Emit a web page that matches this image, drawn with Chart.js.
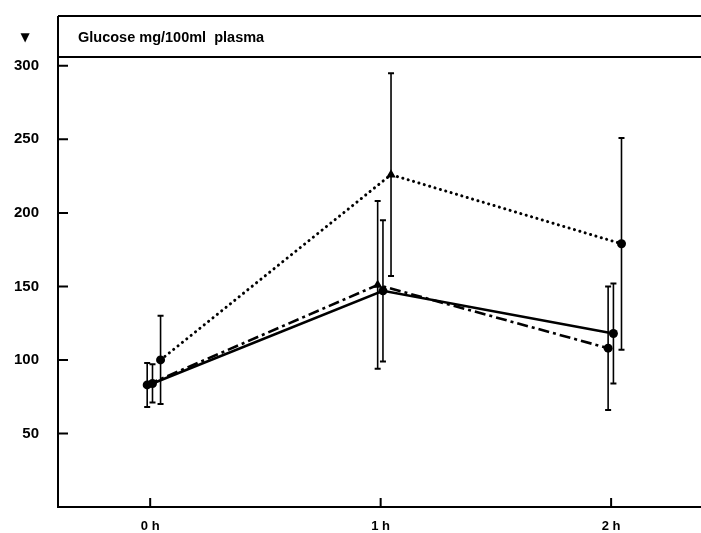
<!DOCTYPE html>
<html>
<head>
<meta charset="utf-8">
<script src="https://cdn.jsdelivr.net/npm/chart.js@4"></script>
<style>
  html, body { margin: 0; padding: 0; background: #fff; overflow: hidden; }
  #wrap { width: 701px; height: 533px; position: relative; }
  canvas { display: block; }
</style>
</head>
<body>
<div id="wrap"><canvas id="c" width="701" height="533"></canvas></div>
<script>
// ---- data ----
const times = [0, 1, 2];
const tickLabels = ['0 h', '1 h', '2 h'];
const yTicks = [50, 100, 150, 200, 250, 300];
const headerText = 'Glucose mg/100ml  plasma';

const dottedMean = [100, 226, 179];
const dottedSD   = [30, 69, 72];
const solidMean  = [84, 147, 118];
const solidSD    = [13, 48, 34];
const dashMean   = [83, 151, 108];
const dashSD     = [15, 57, 42];

// ---- build ----
function pts(mean, off) {
  return mean.map((v, i) => ({ x: times[i] + off, y: v }));
}

const datasets = [
  {
    label: 'dotted', data: pts(dottedMean, 0.045), sd: dottedSD,
    borderColor: '#000', backgroundColor: '#000', borderWidth: 3,
    borderDash: [0.1, 5.5], borderCapStyle: 'round',
    pointStyle: ['circle', 'triangle', 'circle'], pointRadius: [4.5, 5.5, 4.5],
    pointBackgroundColor: '#000', pointBorderWidth: 0
  },
  {
    label: 'solid', data: pts(solidMean, 0.01), sd: solidSD,
    borderColor: '#000', backgroundColor: '#000', borderWidth: 2.6,
    pointStyle: 'circle', pointRadius: 4.5,
    pointBackgroundColor: '#000', pointBorderWidth: 0
  },
  {
    label: 'dashdot', data: pts(dashMean, -0.013), sd: dashSD,
    borderColor: '#000', backgroundColor: '#000', borderWidth: 2.6,
    borderDash: [11, 4, 3, 4],
    pointStyle: ['circle', 'triangle', 'circle'], pointRadius: [4.5, 5.5, 4.5],
    pointBackgroundColor: '#000', pointBorderWidth: 0
  }
];

const framePlugin = {
  id: 'frame',
  beforeDatasetsDraw(chart) {
    const { ctx, scales: { x, y } } = chart;
    ctx.save();
    ctx.strokeStyle = '#000';
    chart.data.datasets.forEach(ds => {
      ds.data.forEach((p, i) => {
        const px = x.getPixelForValue(p.x);
        const top = y.getPixelForValue(p.y + ds.sd[i]);
        const bot = y.getPixelForValue(p.y - ds.sd[i]);
        ctx.lineWidth = 1.6;
        ctx.beginPath();
        ctx.moveTo(px, top); ctx.lineTo(px, bot);
        ctx.stroke();
        ctx.lineWidth = 2;
        ctx.beginPath();
        ctx.moveTo(px - 3, top); ctx.lineTo(px + 3, top);
        ctx.moveTo(px - 3, bot); ctx.lineTo(px + 3, bot);
        ctx.stroke();
      });
    });
    ctx.restore();
  },
  afterDraw(chart) {
    const { ctx, chartArea: a, scales: { x, y } } = chart;
    ctx.save();
    ctx.strokeStyle = '#000';
    ctx.lineWidth = 2;
    const hdrTop = 16;
    ctx.beginPath();
    ctx.moveTo(a.left, hdrTop); ctx.lineTo(a.right, hdrTop);
    ctx.moveTo(a.left, a.top); ctx.lineTo(a.right, a.top);
    ctx.moveTo(a.left, hdrTop); ctx.lineTo(a.left, a.bottom);
    ctx.lineTo(a.right, a.bottom);
    ctx.stroke();
    ctx.beginPath();
    yTicks.forEach(v => {
      const py = y.getPixelForValue(v);
      ctx.moveTo(a.left, py); ctx.lineTo(a.left + 10, py);
    });
    times.forEach(t => {
      const px = x.getPixelForValue(t);
      ctx.moveTo(px, a.bottom); ctx.lineTo(px, a.bottom - 9);
    });
    ctx.stroke();
    ctx.fillStyle = '#000';
    ctx.textBaseline = 'middle';
    ctx.textAlign = 'left';
    ctx.font = 'bold 14.5px "Liberation Sans", Arial, sans-serif';
    ctx.fillText(headerText, a.left + 20, (hdrTop + a.top) / 2 + 1);
    ctx.textAlign = 'center';
    ctx.font = '12px "DejaVu Sans", sans-serif';
    ctx.fillText('▼', 25, (hdrTop + a.top) / 2 + 1);
    ctx.restore();
  }
};

new Chart(document.getElementById('c'), {
  type: 'line',
  data: { datasets },
  options: {
    responsive: false,
    animation: false,
    layout: { autoPadding: false, padding: { top: 57, left: 0, right: 0, bottom: 0 } },
    plugins: { legend: { display: false }, tooltip: { enabled: false }, title: { display: false } },
    elements: { line: { tension: 0, fill: false } },
    scales: {
      x: {
        type: 'linear', min: -0.4, max: 2.39,
        grid: { display: false, drawTicks: false },
        border: { display: false },
        afterBuildTicks(s) { s.ticks = times.map(v => ({ value: v })); },
        afterFit(s) { s.height = 26; s.paddingLeft = 0; s.paddingRight = 0; },
        ticks: {
          padding: 12, color: '#000',
          font: { family: '"Liberation Sans", Arial, sans-serif', size: 13, weight: 'bold' },
          callback: (v) => { const i = times.indexOf(v); return i >= 0 ? tickLabels[i] : ''; },
          autoSkip: false, maxRotation: 0
        }
      },
      y: {
        type: 'linear', min: 0, max: 306,
        grid: { display: false, drawTicks: false },
        border: { display: false },
        afterBuildTicks(s) { s.ticks = yTicks.map(v => ({ value: v })); },
        afterFit(s) { s.width = 58; s.paddingTop = 0; s.paddingBottom = 0; },
        ticks: {
          padding: 19, color: '#000',
          font: { family: '"Liberation Sans", Arial, sans-serif', size: 15, weight: 'bold' }
        }
      }
    }
  },
  plugins: [framePlugin]
});
</script>
</body>
</html>
